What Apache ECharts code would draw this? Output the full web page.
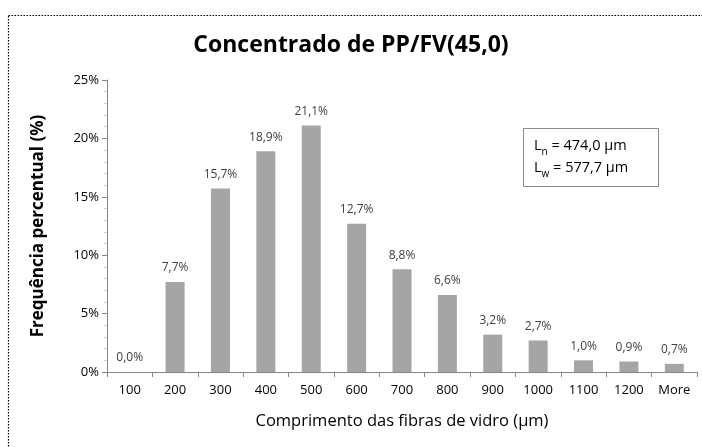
<!DOCTYPE html>
<html>
<head>
<meta charset="utf-8">
<script src="https://cdn.jsdelivr.net/npm/echarts@6/dist/echarts.min.js"></script>
<style>
  html, body { margin: 0; padding: 0; background: #fff; }
  #chart { width: 702px; height: 447px; }
</style>
</head>
<body>
<div id="chart"></div>
<script>
// Fibre length classes (µm) and their percentage frequency
const categories = ['100', '200', '300', '400', '500', '600', '700', '800', '900', '1000', '1100', '1200', 'More'];
const frequency = [0.0, 7.7, 15.7, 18.9, 21.1, 12.7, 8.8, 6.6, 3.2, 2.7, 1.0, 0.9, 0.7];
const yTicks = [0, 5, 10, 15, 20, 25];
const lengthNumber = '474,0';
const lengthWeight = '577,7';

const FONT = '"Open Sans", "Noto Sans", sans-serif';
const chart = echarts.init(document.getElementById('chart'), null, { renderer: 'canvas' });

chart.setOption({
  backgroundColor: '#ffffff',
  animation: false,
  title: {
    text: 'Concentrado de PP/FV(45,0)',
    left: 'center',
    top: 29,
    textStyle: { fontFamily: FONT, fontSize: 23, fontWeight: 'bold', color: '#000' }
  },
  grid: { left: 107, right: 5, top: 80, bottom: 75 },
  xAxis: {
    type: 'category',
    data: categories,
    name: 'Comprimento das fibras de vidro (µm)',
    nameLocation: 'middle',
    nameGap: 41,
    nameTextStyle: { fontFamily: FONT, fontSize: 16.5, color: '#000' },
    axisLine: { lineStyle: { color: '#868686', width: 1 } },
    axisTick: { show: true, alignWithLabel: false, length: 5, lineStyle: { color: '#868686' } },
    axisLabel: { fontFamily: FONT, fontSize: 13, color: '#000', margin: 12 }
  },
  yAxis: {
    type: 'value',
    min: 0,
    max: 25,
    interval: 5,
    name: 'Frequência percentual (%)',
    nameLocation: 'middle',
    nameGap: 60,
    nameTextStyle: { fontFamily: FONT, fontSize: 17, fontWeight: 'bold', color: '#000' },
    axisLine: { show: true, lineStyle: { color: '#868686', width: 1 } },
    axisTick: { show: true, inside: false, length: 5, lineStyle: { color: '#868686' } },
    minorTick: { show: true, splitNumber: 5, length: 3, lineStyle: { color: '#d0d0d0' } },
    splitLine: { show: false },
    axisLabel: {
      fontFamily: FONT, fontSize: 13, color: '#000', margin: 8,
      formatter: v => yTicks.includes(v) ? v + '%' : ''
    }
  },
  series: [{
    type: 'bar',
    data: frequency,
    barWidth: 19,
    itemStyle: { color: '#a5a5a5' },
    label: {
      show: true,
      position: 'top',
      distance: 8,
      fontFamily: FONT,
      fontSize: 12,
      color: '#404040',
      formatter: p => p.value.toFixed(1).replace('.', ',') + '%'
    }
  }],
  graphic: [
    {
      type: 'rect',
      silent: true,
      shape: { x: 8.5, y: 15.5, width: 720, height: 460 },
      style: { fill: 'none', stroke: '#000', lineWidth: 1.2, lineDash: [1.5, 1.5] }
    },
    {
      type: 'group',
      left: 523,
      top: 128,
      children: [
        {
          type: 'rect',
          shape: { x: 0.5, y: 0.5, width: 135, height: 58 },
          style: { fill: '#fff', stroke: '#8a8a8a', lineWidth: 1 }
        },
        {
          type: 'text',
          left: 11,
          top: 7,
          style: {
            text: 'L{sub|n} = ' + lengthNumber + ' µm\nL{sub|w} = ' + lengthWeight + ' µm',
            fontFamily: FONT,
            fontSize: 14.5,
            lineHeight: 22,
            fill: '#000',
            rich: {
              sub: { fontFamily: FONT, fontSize: 10, verticalAlign: 'bottom', padding: [7, 0, 0, 0], lineHeight: 22 }
            }
          }
        }
      ]
    }
  ]
});
</script>
</body>
</html>
